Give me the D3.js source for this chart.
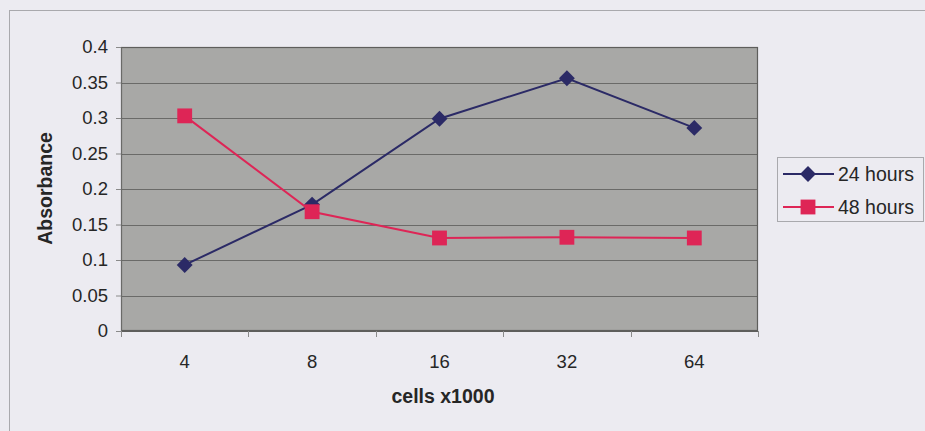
<!DOCTYPE html>
<html>
<head>
<meta charset="utf-8">
<script src="https://cdn.jsdelivr.net/npm/d3@7"></script>
<style>
  html, body { margin: 0; padding: 0; background: #ecebf1; }
  svg { display: block; font-family: "Liberation Sans", Arial, sans-serif; }
</style>
</head>
<body>
<svg id="chart" width="925" height="431"></svg>
<script>
// Cell counts (x1000) and absorbance readings
const categories = ["4", "8", "16", "32", "64"];
const hours24 = [0.093, 0.178, 0.299, 0.356, 0.286];
const hours48 = [0.303, 0.168, 0.131, 0.132, 0.131];
const yTicks = [0, 0.05, 0.1, 0.15, 0.2, 0.25, 0.3, 0.35, 0.4];
const seriesNames = ["24 hours", "48 hours"];

const svg = d3.select("#chart");
const plot = { left: 121, top: 47, right: 758, bottom: 331 };
const textColor = "#262626";

// Chart frame
svg.append("rect")
  .attr("x", 9.5).attr("y", 10.5)
  .attr("width", 940).attr("height", 440)
  .attr("fill", "none").attr("stroke", "#a9a9ad").attr("stroke-width", 1);

const x = d3.scaleBand().domain(categories).range([plot.left, plot.right]);
const y = d3.scaleLinear().domain([0, 0.4]).range([plot.bottom, plot.top]);

// Plot area
svg.append("rect")
  .attr("x", plot.left).attr("y", plot.top)
  .attr("width", plot.right - plot.left).attr("height", plot.bottom - plot.top)
  .attr("fill", "#a8a8a6");

// Gridlines
svg.append("g").selectAll("line")
  .data(yTicks.filter(t => t > 0 && t < 0.4))
  .join("line")
  .attr("x1", plot.left).attr("x2", plot.right)
  .attr("y1", d => Math.round(y(d)) + 0.5).attr("y2", d => Math.round(y(d)) + 0.5)
  .attr("stroke", "#6a6a68").attr("stroke-width", 1);

// Plot border
svg.append("rect")
  .attr("x", plot.left + 0.5).attr("y", plot.top + 0.5)
  .attr("width", plot.right - plot.left - 1).attr("height", plot.bottom - plot.top - 1)
  .attr("fill", "none").attr("stroke", "#5e5e5c").attr("stroke-width", 1.2);

// Y axis
const yAxis = d3.axisLeft(y).tickValues(yTicks).tickFormat(d => String(d)).tickSize(5).tickPadding(8);
svg.append("g")
  .attr("transform", `translate(${plot.left},0)`)
  .call(yAxis)
  .call(g => g.select(".domain").attr("stroke", "#6a6a68"))
  .call(g => g.selectAll(".tick line").attr("stroke", "#8a8a8a"))
  .call(g => g.selectAll("text").attr("font-size", 18.5).attr("fill", textColor)
    .attr("font-family", "Liberation Sans, Arial, sans-serif"));

// X axis: labels centred in bands, tick marks at band boundaries
const xg = svg.append("g").attr("transform", `translate(0,${plot.bottom})`);
xg.append("line").attr("x1", plot.left).attr("x2", plot.right).attr("y1", 0.5).attr("y2", 0.5)
  .attr("stroke", "#5e5e5c");
xg.selectAll("line.tk")
  .data(categories.concat(["end"]))
  .join("line").attr("class", "tk")
  .attr("x1", (d, i) => Math.round(plot.left + i * x.bandwidth()) + 0.5)
  .attr("x2", (d, i) => Math.round(plot.left + i * x.bandwidth()) + 0.5)
  .attr("y1", 0).attr("y2", 6)
  .attr("stroke", "#8a8a8a");
xg.selectAll("text")
  .data(categories)
  .join("text")
  .attr("x", d => x(d) + x.bandwidth() / 2)
  .attr("y", 37)
  .attr("text-anchor", "middle")
  .attr("font-size", 18.5).attr("fill", textColor)
  .text(d => d);

// Axis titles
svg.append("text")
  .attr("transform", `translate(52,${(plot.top + plot.bottom) / 2 - 0.5}) rotate(-90)`)
  .attr("text-anchor", "middle")
  .attr("font-size", 19.5).attr("font-weight", "bold").attr("fill", textColor)
  .text("Absorbance");
svg.append("text")
  .attr("x", 443)
  .attr("y", 403)
  .attr("text-anchor", "middle")
  .attr("font-size", 19.5).attr("font-weight", "bold").attr("fill", textColor)
  .text("cells x1000");

// Series
const colors = ["#2b2a66", "#de2556"];
const cx = d => x(d) + x.bandwidth() / 2;
const line = d3.line().x((d, i) => cx(categories[i])).y(d => y(d));
const diamond = d3.symbol().type(d3.symbolDiamond2).size(160);
const square = d3.symbol().type(d3.symbolSquare).size(220);

[hours24, hours48].forEach((vals, si) => {
  svg.append("path")
    .datum(vals)
    .attr("d", line)
    .attr("fill", "none")
    .attr("stroke", colors[si])
    .attr("stroke-width", 2);
  svg.append("g").selectAll("path")
    .data(vals)
    .join("path")
    .attr("transform", (d, i) => `translate(${cx(categories[i])},${y(d)})`)
    .attr("d", si === 0 ? diamond : square)
    .attr("fill", colors[si]);
});

// Legend
const legend = svg.append("g");
legend.append("rect")
  .attr("x", 777.5).attr("y", 157.5).attr("width", 146).attr("height", 64)
  .attr("fill", "#ecebf1").attr("stroke", "#a9a9ad");
seriesNames.forEach((name, i) => {
  const ly = 174 + i * 33;
  legend.append("line")
    .attr("x1", 783).attr("x2", 834).attr("y1", ly).attr("y2", ly)
    .attr("stroke", colors[i]).attr("stroke-width", 2);
  legend.append("path")
    .attr("transform", `translate(808,${ly})`)
    .attr("d", i === 0 ? diamond : square)
    .attr("fill", colors[i]);
  legend.append("text")
    .attr("x", 838).attr("y", ly + 7)
    .attr("font-size", 19.5).attr("fill", textColor)
    .text(name);
});
</script>
</body>
</html>
